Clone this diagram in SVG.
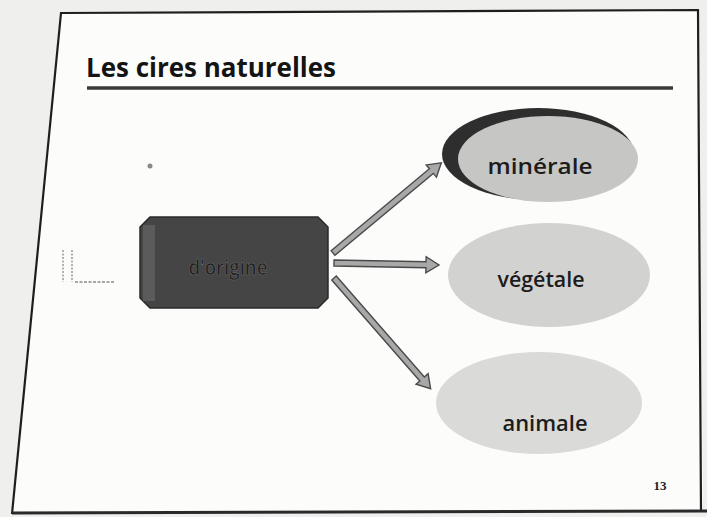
<svg xmlns="http://www.w3.org/2000/svg" width="707" height="517" viewBox="0 0 707 517">
  <style>
    .title { font-family: "Open Sans", "Liberation Sans", sans-serif; font-weight: bold; font-size: 26px; fill: #141414; }
    .lbl { font-family: "Open Sans", "Liberation Sans", sans-serif; font-weight: 600; font-size: 22px; fill: #1c1c1c; }
    .arrow { fill: #a8a8a8; stroke: #4a4a4a; stroke-width: 1.4; stroke-linejoin: miter; }
    .border { fill: none; stroke: #1e1e1e; stroke-width: 2.2; }
  </style>
  <rect x="0" y="0" width="707" height="517" fill="#efefed"/>
  <polygon points="61,13 698,10 703,512 12,514" fill="#fcfcfb"/>
  <g id="frame">
    <polyline class="border" points="12,514 61,13 698,10 701,512"/>
    <line x1="12" y1="513" x2="707" y2="511" stroke="#2a2a2a" stroke-width="3"/>
  </g>
  <g id="title">
    <text class="title" x="86" y="77" textLength="250" lengthAdjust="spacingAndGlyphs">Les cires naturelles</text>
    <line x1="87" y1="88" x2="673" y2="88" stroke="#3a3a3a" stroke-width="3.5"/>
  </g>
  <g id="bracket" stroke="#8a8a8a" stroke-width="1.3" fill="none">
    <line x1="63" y1="250" x2="63" y2="282" stroke-dasharray="2,1.5"/>
    <line x1="72" y1="250" x2="72" y2="282" stroke-dasharray="2,1.5"/>
    <line x1="75" y1="282" x2="115" y2="282" stroke-dasharray="3,1.5"/>
  </g>
  <circle cx="150" cy="166" r="2.5" fill="#8a8a80"/>
  <g id="connectors">
    <path class="arrow" transform="translate(333,253) rotate(-39.8)" d="M0,-3 L128,-3 L128,-8 L141,0 L128,8 L128,3 L0,3 Z"/>
    <path class="arrow" transform="translate(334,263) rotate(1.1)" d="M0,-3 L92,-3 L92,-8 L105,0 L92,8 L92,3 L0,3 Z"/>
    <path class="arrow" transform="translate(334,278) rotate(48.9)" d="M0,-3 L134,-3 L134,-8 L147,0 L134,8 L134,3 L0,3 Z"/>
  </g>
  <g id="origine">
    <polygon points="150,217 318,217 328,227 328,298 318,308 150,308 140,298 140,227" fill="#454545" stroke="#2a2a2a" stroke-width="1.5"/>
    <rect x="143" y="225" width="12" height="76" fill="#6a6a6a" opacity="0.6"/>
    <text class="lbl" x="228" y="275" text-anchor="middle" font-size="18" fill="#1e1e1e" stroke="#6a6a6a" stroke-width="0.6" textLength="79" lengthAdjust="spacingAndGlyphs">d'origine</text>
  </g>
  <g id="minerale">
    <ellipse cx="538" cy="154" rx="96" ry="46" fill="#2e2e2e"/>
    <ellipse cx="548" cy="159" rx="90" ry="43" fill="#c6c6c4"/>
    <text class="lbl" x="540" y="174" text-anchor="middle" textLength="105" lengthAdjust="spacingAndGlyphs">minérale</text>
  </g>
  <g id="vegetale">
    <ellipse cx="549" cy="275" rx="101" ry="52" fill="#d2d2d0"/>
    <text class="lbl" x="541" y="287" text-anchor="middle" textLength="87" lengthAdjust="spacingAndGlyphs">végétale</text>
  </g>
  <g id="animale">
    <ellipse cx="539" cy="403" rx="103" ry="51" fill="#dadad8"/>
    <text class="lbl" x="545" y="431" text-anchor="middle" textLength="85" lengthAdjust="spacingAndGlyphs">animale</text>
  </g>
  <text x="660" y="490" text-anchor="middle" font-family="Liberation Serif, serif" font-weight="bold" font-size="13" fill="#222">13</text>
</svg>
